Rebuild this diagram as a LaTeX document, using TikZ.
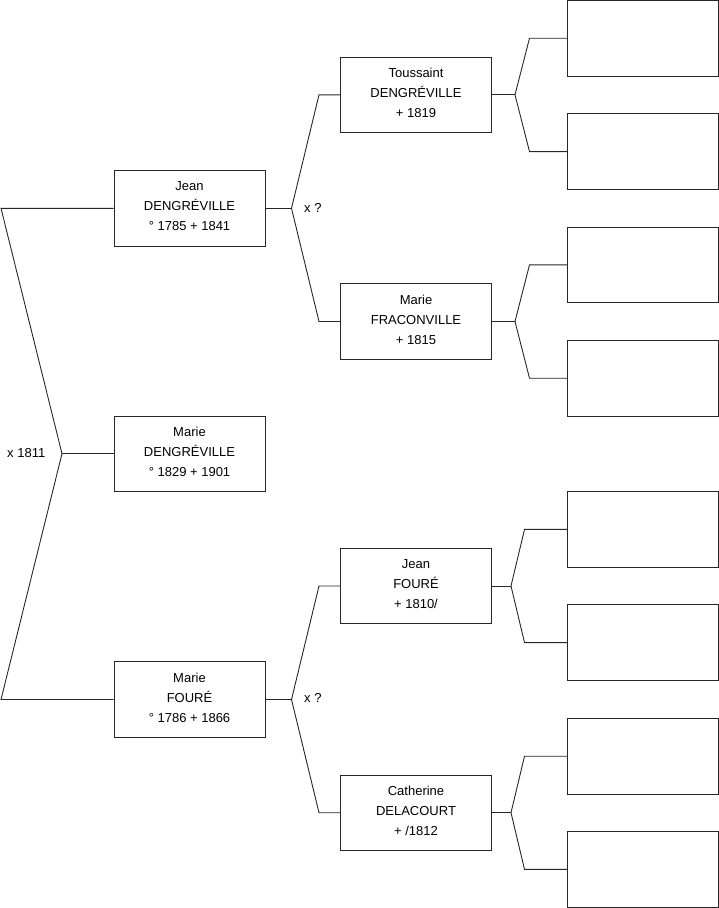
\documentclass[tikz,border=0pt]{standalone}
\usepackage{fontspec}
\setmainfont{Liberation Sans}
\begin{document}
\begin{tikzpicture}[x=1pt,y=-1pt,
  line/.style={draw=black!85,line width=0.9pt},
  pbox/.style={line,rectangle,minimum width=151pt,minimum height=75.5pt,inner sep=0pt,align=center,
    font=\fontsize{13pt}{20pt}\selectfont,text=black,text depth=4pt},
  ebox/.style={line,rectangle,minimum width=151pt,minimum height=75.5pt,inner sep=0pt},
  lbl/.style={font=\fontsize{13pt}{16pt}\selectfont,inner sep=0pt,anchor=west}]
\useasboundingbox (0,0) rectangle (719,908);
% generation 1
\node[pbox] (marie) at (189.5,453.7) {Marie\\DENGRÉVILLE\\° 1829 + 1901};
% generation 2
\node[pbox] (jean) at (189.5,208.3) {Jean\\DENGRÉVILLE\\° 1785 + 1841};
\node[pbox] (mfoure) at (189.5,699.5) {Marie\\FOURÉ\\° 1786 + 1866};
% generation 3
\node[pbox] (tous) at (416,94.8) {Toussaint\\DENGRÉVILLE\\+ 1819};
\node[pbox] (frac) at (416,321.5) {Marie\\FRACONVILLE\\+ 1815};
\node[pbox] (jfoure) at (416,586) {Jean\\FOURÉ\\+ 1810/};
\node[pbox] (cath) at (416,812.7) {Catherine\\DELACOURT\\+ /1812};
% generation 4 (empty)
\node[ebox] (e1) at (643,38.2) {};
\node[ebox] (e2) at (643,151.6) {};
\node[ebox] (e3) at (643,264.8) {};
\node[ebox] (e4) at (643,378.2) {};
\node[ebox] (e5) at (643,529.4) {};
\node[ebox] (e6) at (643,642.6) {};
\node[ebox] (e7) at (643,756.2) {};
\node[ebox] (e8) at (643,869.4) {};
% fork 0
\coordinate (v0) at (62,453.7);
\coordinate (a0) at (1,208.3);
\coordinate (b0) at (1,699.5);
\draw[line] (jean.west) -- (a0) -- (v0) -- (b0) -- (mfoure.west);
\draw[line] (v0) -- (marie.west);
\node[lbl] (l0) at (7,453) {x 1811};
% fork 1 (Jean)
\coordinate (v1) at (291.5,208.3);
\coordinate (a1) at (319,94.8);
\coordinate (b1) at (319,321.5);
\draw[line] (jean.east) -- (v1);
\draw[line] (tous.west) -- (a1) -- (v1) -- (b1) -- (frac.west);
\node[lbl] (l1) at (304,208) {x ?};
% fork 2 (Marie FOURE)
\coordinate (v2) at (291.5,699.5);
\coordinate (a2) at (319,586);
\coordinate (b2) at (319,812.7);
\draw[line] (mfoure.east) -- (v2);
\draw[line] (jfoure.west) -- (a2) -- (v2) -- (b2) -- (cath.west);
\node[lbl] (l2) at (304,698) {x ?};
% forks to empty boxes
\coordinate (v3) at (515,94.8);
\draw[line] (tous.east) -- (v3);
\draw[line] (e1.west) -- (529.5,38.2) -- (v3) -- (529.5,151.6) -- (e2.west);
\coordinate (v4) at (515,321.5);
\draw[line] (frac.east) -- (v4);
\draw[line] (e3.west) -- (529.5,264.8) -- (v4) -- (529.5,378.2) -- (e4.west);
\coordinate (v5) at (511,586);
\draw[line] (jfoure.east) -- (v5);
\draw[line] (e5.west) -- (524.5,529.4) -- (v5) -- (524.5,642.6) -- (e6.west);
\coordinate (v6) at (511,812.7);
\draw[line] (cath.east) -- (v6);
\draw[line] (e7.west) -- (524.5,756.2) -- (v6) -- (524.5,869.4) -- (e8.west);
\end{tikzpicture}
\end{document}
